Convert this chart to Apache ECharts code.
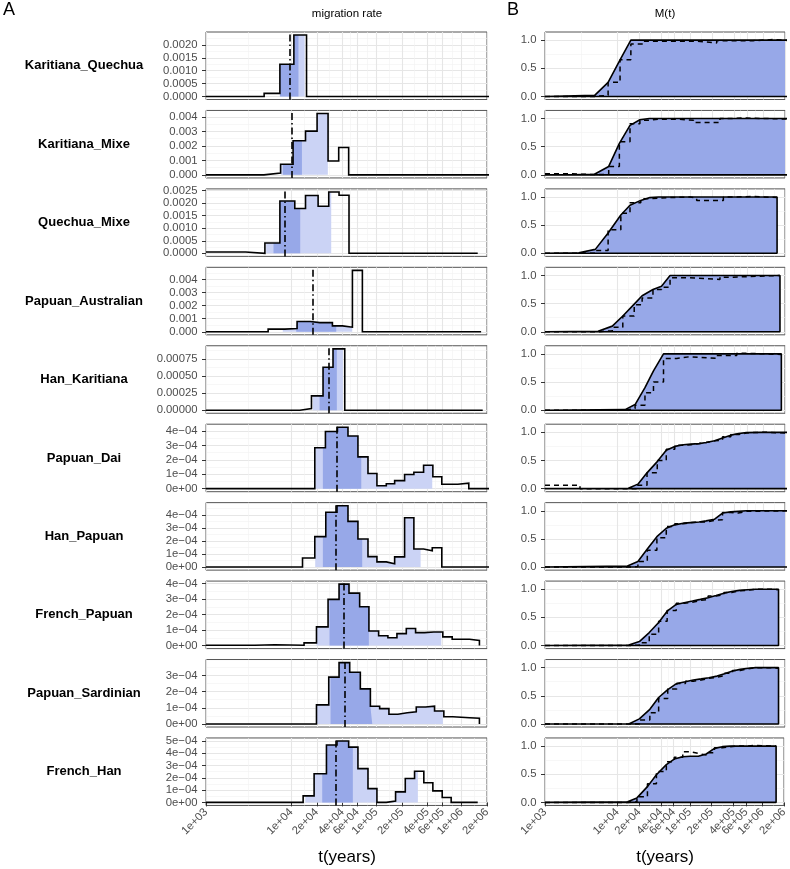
<!DOCTYPE html>
<html><head><meta charset="utf-8">
<script src="https://cdn.jsdelivr.net/npm/echarts@6/dist/echarts.min.js"></script>
<style>html,body{margin:0;padding:0;background:#fff}#c{width:790px;height:869px}</style>
</head><body><div id="c"></div>
<script>
// ---------------- data ----------------
const pairNames = ["Karitiana_Quechua","Karitiana_Mixe","Quechua_Mixe","Papuan_Australian","Han_Karitiana",
  "Papuan_Dai","Han_Papuan","French_Papuan","Papuan_Sardinian","French_Han"];

const xBreaks = [1e3, 1e4, 2e4, 4e4, 6e4, 1e5, 2e5, 4e5, 6e5, 1e6, 2e6];
const xLimits = [1e3, 2e6];

// histogram bin edges (years) and migration rate per bin
const edgesKarQue = [1000, 4820, 7380, 10770, 15170, 2500000];
const rateKarQue  = [0, 0.00012, 0.00125, 0.00238, 0];
const edgesKarMix = [1000, 4790, 7520, 10540, 14760, 20180, 27160, 36220, 47420, 2500000];
const rateKarMix  = [0, 0.00013, 0.00073, 0.00236, 0.00302, 0.00424, 0.00096, 0.00189, 0];
const edgesQueMix = [1000, 2920, 4920, 7380, 11040, 14760, 20750, 27670, 36560, 47860, 1556000];
const rateQueMix  = [0.00005, 0, 0.00041, 0.00209, 0.00179, 0.00231, 0.00188, 0.00245, 0.00232, 0];
const edgesPapAus = [1000, 5370, 8430, 11750, 16870, 21680, 30550, 40090, 52480, 68710, 1706000];
const ratePapAus  = [0, 0.0002, 0.00025, 0.00078, 0.0007, 0.0007, 0.00045, 0.00035, 0.0047, 0];
const edgesHanKar = [1000, 12650, 17340, 23710, 31050, 42660, 1782000];
const rateHanKar  = [0, 0.000024, 0.00021, 0.00063, 0.0009, 0];
const edgesPapDai = [1000, 18970, 25290, 34990, 46560, 60950, 79980, 101860, 131220, 164440, 215280, 276690, 359750, 462380, 588840, 907800, 1221800, 2500000];
const ratePapDai  = [0, 2.84e-4, 3.98e-4, 4.27e-4, 3.66e-4, 2.21e-4, 1.05e-4, 2.0e-5, 3.4e-5, 5.6e-5, 9.8e-5, 1.14e-4, 1.63e-4, 8.3e-5, 3.1e-5, 3.8e-5, 0];
const edgesHanPap = [1000, 13610, 18970, 25530, 34590, 46560, 60950, 79980, 101860, 131220, 164440, 215280, 276690, 359750, 455000, 588840, 2500000];
const rateHanPap  = [0, 7.0e-5, 2.33e-4, 4.2e-4, 4.7e-4, 3.5e-4, 2.15e-4, 8.0e-5, 4.0e-5, 2.5e-5, 7.8e-5, 3.78e-4, 1.38e-4, 1.25e-4, 1.48e-4, 0];
const edgesFrePap = [1000, 3750, 6440, 14190, 19860, 27160, 36560, 47860, 63830, 82040, 106660, 137090, 174990, 225420, 289730, 368980, 474240, 605340, 779830, 1244500, 1629300];
const rateFrePap  = [2e-6, 5e-6, 2e-6, 1.7e-5, 1.2e-4, 2.98e-4, 3.96e-4, 3.38e-4, 2.5e-4, 9.4e-5, 6.3e-5, 5.0e-5, 7.7e-5, 1.1e-4, 8.3e-5, 8.7e-5, 8.7e-5, 5.6e-5, 4.0e-5, 3.3e-5];
const edgesPapSar = [1000, 19860, 27670, 36560, 48750, 65010, 85310, 109650, 140930, 179470, 231740, 295120, 379320, 484170, 622300, 792500, 1244500, 1629300];
const ratePapSar  = [0, 1.18e-4, 2.9e-4, 3.8e-4, 3.2e-4, 2.17e-4, 1.1e-4, 9.5e-5, 6.0e-5, 6.9e-5, 7.5e-5, 1.05e-4, 1.1e-4, 8.0e-5, 4.5e-5, 3.8e-5, 3.5e-5];
const edgesFreHan = [1000, 13840, 18620, 26000, 34590, 47420, 60950, 79980, 101860, 131220, 168660, 219280, 281840, 362240, 462380, 595660, 758580, 1556000];
const rateFreHan  = [0, 5.3e-5, 2.33e-4, 4.68e-4, 5.0e-4, 4.5e-4, 2.75e-4, 1.12e-4, 0, 1.0e-5, 8.6e-5, 1.95e-4, 2.54e-4, 1.6e-4, 9.4e-5, 4.0e-5, 0];

// median (dot-dash line) and shaded intervals (years)
const medianT = [9570, 10120, 8530, 17700, 27480, 34440, 33880, 41300, 42370, 32960];
const darkLo  = [7380, 8000, 6210, 11480, 21580, 23600, 23600, 28250, 29040, 23190];
const darkHi  = [12200, 13400, 12790, 33880, 34440, 66680, 68400, 81850, 89750, 53090];
const lightLo = [7380, 7600, 5090, 7980, 17990, 19190, 19190, 19720, 19720, 14660];
const lightHi = [14400, 27000, 29580, 52240, 40550, 454800, 332000, 580700, 606400, 308300];

// y tick step and label format per migration-rate panel
const yStep = [0.0005, 0.001, 0.0005, 0.001, 0.00025, 1e-4, 1e-4, 1e-4, 1e-4, 1e-4];
const yFmt  = [4, 3, 4, 3, 5, 'sci', 'sci', 'sci', 'sci', 'sci'];

// cumulative M(t): times (years), solid curve, dashed step
const mTKarQue = [1000, 4820, 7380, 10770, 15170, 22490, 122000, 230000, 730000, 1380000, 2500000];
const mSolKarQue = [0, 0.02, 0.25, 0.65, 1.0, 1.0, 1.0, 1.0, 1.0, 1.0, 1.0];
const mDasKarQue = [0, 0.02, 0.25, 0.65, 0.93, 0.98, 0.95, 0.99, 1.01, 0.99, 0.99];
const mTKarMix = [1000, 2200, 4790, 7520, 10540, 14760, 20180, 27160, 36220, 64600, 110000, 255000, 350000, 535000, 2500000];
const mSolKarMix = [0, 0, 0.01, 0.15, 0.56, 0.88, 0.98, 1.0, 1.0, 1.0, 1.0, 1.0, 1.0, 1.0, 1.0];
const mDasKarMix = [0.02, 0.005, 0.01, 0.15, 0.59, 0.91, 0.97, 0.99, 0.99, 0.97, 0.93, 1.0, 1.01, 0.99, 0.99];
const mTQueMix = [1000, 2920, 4920, 7380, 11040, 14760, 20750, 27670, 36560, 47860, 98600, 122000, 284000, 389000, 733000, 1556000];
const mSolQueMix = [0, 0.01, 0.07, 0.36, 0.68, 0.855, 0.94, 0.99, 1.0, 1.0, 1.0, 1.0, 1.0, 1.0, 1.0, 1.0];
const mDasQueMix = [0, 0, 0.05, 0.42, 0.71, 0.9, 0.97, 0.98, 0.99, 1.0, 0.98, 0.94, 1.0, 1.01, 0.99, 0.99];
const mTPapAus = [1000, 5370, 8430, 11750, 16870, 21680, 30550, 40090, 52480, 98600, 255000, 389000, 1706000];
const mSolPapAus = [0, 0.01, 0.1, 0.28, 0.49, 0.64, 0.75, 0.81, 1.0, 1.0, 1.0, 1.0, 1.0];
const mDasPapAus = [0, 0.02, 0.08, 0.28, 0.48, 0.6, 0.75, 0.79, 0.96, 0.93, 0.97, 1.0, 1.0];
const mTHanKar = [1000, 12650, 17340, 23710, 31050, 42660, 64700, 98600, 230000, 434000, 640000, 1782000];
const mSolHanKar = [0, 0.01, 0.1, 0.4, 0.7, 1.0, 1.0, 1.0, 1.0, 1.0, 1.0, 1.0];
const mDasHanKar = [0, 0.03, 0.09, 0.31, 0.5, 0.92, 0.95, 0.92, 0.97, 1.01, 0.99, 0.99];
const mTPapDai = [1000, 3030, 14000, 18970, 25290, 34990, 46560, 60950, 79980, 101860, 131220, 164440, 215280, 276690, 359750, 462380, 588840, 907800, 1221800, 2500000];
const mSolPapDai = [0, 0, 0.005, 0.08, 0.28, 0.48, 0.68, 0.75, 0.78, 0.79, 0.8, 0.82, 0.85, 0.9, 0.95, 0.98, 0.995, 1.0, 1.0, 1.0];
const mDasPapDai = [0.06, 0, 0, 0.06, 0.28, 0.5, 0.7, 0.77, 0.78, 0.8, 0.82, 0.85, 0.86, 0.92, 0.96, 0.99, 1.0, 1.0, 0.98, 0.98];
const mTHanPap = [1000, 13610, 18970, 25530, 34590, 46560, 60950, 79980, 101860, 131220, 164440, 215280, 276690, 359750, 455000, 588840, 2500000];
const mSolHanPap = [0, 0.02, 0.1, 0.32, 0.54, 0.69, 0.75, 0.78, 0.79, 0.8, 0.82, 0.85, 0.96, 0.98, 0.99, 1.0, 1.0];
const mDasHanPap = [0, 0.01, 0.1, 0.3, 0.52, 0.72, 0.77, 0.79, 0.8, 0.8, 0.83, 0.84, 0.97, 0.96, 0.99, 1.0, 1.0];
const mTFrePap = [1000, 14190, 19860, 27160, 36560, 47860, 63830, 82040, 106660, 137090, 174990, 225420, 289730, 368980, 474240, 605340, 779830, 1244500, 1629300];
const mSolFrePap = [0, 0.01, 0.07, 0.23, 0.41, 0.61, 0.73, 0.76, 0.79, 0.82, 0.85, 0.89, 0.93, 0.96, 0.98, 0.99, 1.0, 1.0, 1.0];
const mDasFrePap = [0, 0.01, 0.05, 0.2, 0.43, 0.62, 0.75, 0.77, 0.8, 0.82, 0.88, 0.9, 0.94, 0.97, 0.98, 1.0, 1.0, 0.99, 0.99];
const mTPapSar = [1000, 14190, 19860, 27670, 36560, 48750, 65010, 85310, 109650, 140930, 179470, 231740, 295120, 379320, 484170, 622300, 792500, 1244500, 1629300];
const mSolPapSar = [0, 0, 0.09, 0.26, 0.47, 0.61, 0.72, 0.75, 0.78, 0.8, 0.82, 0.85, 0.89, 0.94, 0.97, 0.99, 1.0, 1.0, 1.0];
const mDasPapSar = [0, 0, 0.07, 0.2, 0.45, 0.62, 0.72, 0.76, 0.78, 0.81, 0.83, 0.86, 0.9, 0.95, 0.98, 1.0, 1.0, 0.99, 0.99];
const mTFreHan = [1000, 13840, 18620, 26000, 34590, 47420, 60950, 79980, 101860, 131220, 168660, 219280, 281840, 362240, 462380, 595660, 758580, 1556000];
const mSolFreHan = [0, 0.01, 0.08, 0.28, 0.49, 0.67, 0.77, 0.81, 0.82, 0.82, 0.86, 0.96, 0.99, 1.0, 1.0, 1.0, 1.0, 1.0];
const mDasFreHan = [0, 0.01, 0.1, 0.33, 0.55, 0.72, 0.8, 0.9, 0.87, 0.84, 0.88, 0.97, 0.99, 1.0, 1.0, 1.01, 1.0, 1.0];

const mTicks = [0, 0.5, 1.0];
const mRange = [-0.0545, 1.1445];

// ---------------- assembly ----------------
const histEdges = [edgesKarQue, edgesKarMix, edgesQueMix, edgesPapAus, edgesHanKar, edgesPapDai, edgesHanPap, edgesFrePap, edgesPapSar, edgesFreHan];
const histRates = [rateKarQue, rateKarMix, rateQueMix, ratePapAus, rateHanKar, ratePapDai, rateHanPap, rateFrePap, ratePapSar, rateFreHan];
const mTs  = [mTKarQue, mTKarMix, mTQueMix, mTPapAus, mTHanKar, mTPapDai, mTHanPap, mTFrePap, mTPapSar, mTFreHan];
const mSol = [mSolKarQue, mSolKarMix, mSolQueMix, mSolPapAus, mSolHanKar, mSolPapDai, mSolHanPap, mSolFrePap, mSolPapSar, mSolFreHan];
const mDas = [mDasKarQue, mDasKarMix, mDasQueMix, mDasPapAus, mDasHanKar, mDasPapDai, mDasHanPap, mDasFrePap, mDasPapSar, mDasFreHan];

const FONT = '"Liberation Sans", Arial, Helvetica, sans-serif';
const C_DARK = '#97a8e8', C_LIGHT = '#cbd3f5', C_FILL = '#97a8e8';
const GRID_MAJ = '#e6e6e6', GRID_MIN = '#f1f1f1';
const L = t => Math.log10(t);
const xMinL = L(xLimits[0]), xMaxL = L(xLimits[1]);
const xMajorL = xBreaks.map(L);
const xMinorL = xMajorL.slice(1).map((v, k) => (v + xMajorL[k]) / 2);

function fmtX(v) {
  const t = Math.round(Math.pow(10, v));
  const m = t.toExponential(0).match(/^(\d)e([+-])(\d+)$/);
  return m[1] + 'e' + m[2] + m[3].padStart(2, '0');
}
function fmtY(v, f) {
  if (f === 'sci') {
    if (Math.abs(v) < 1e-15) return '0e+00';
    const m = v.toExponential(0).match(/^(-?\d)e([+-])(\d+)$/);
    return m[1] + 'e' + (m[2] === '-' ? '\u2212' : '+') + m[3].padStart(2, '0');
  }
  return v.toFixed(f);
}
function rateAt(edges, rates, t) {
  for (let k = 0; k < rates.length; k++) if (t >= edges[k] && t < edges[k + 1]) return rates[k];
  return 0;
}
function stepPts(edges, rates) {
  const p = [];
  for (let k = 0; k < rates.length; k++) { p.push([L(edges[k]), rates[k]]); p.push([L(edges[k + 1]), rates[k]]); }
  p.push([L(edges[edges.length - 1]), 0]);
  return p;
}
function clipPts(edges, rates, lo, hi) {
  const p = [[L(lo), rateAt(edges, rates, lo)]];
  for (let k = 1; k < edges.length - 1; k++) {
    const e = edges[k];
    if (e > lo && e < hi) { p.push([L(e), rates[k - 1]]); p.push([L(e), rates[k]]); }
  }
  p.push([L(hi), rateAt(edges, rates, hi * 0.9999)]);
  return p;
}

const TOP0 = 32, STEP = 78.44, H = 67.5;
const grids = [], xAxes = [], yAxes = [], series = [], graphics = [];
const lblStyle = { color: '#4d4d4d', fontSize: 11.3, fontFamily: FONT };

function addAxes(g, last, yMin, yMax, yTicks, yMinor, yFormatter) {
  xAxes.push({ gridIndex: g, type: 'value', min: xMinL, max: xMaxL, position: 'bottom',
    axisLine: { show: false },
    axisTick: { show: last, customValues: xMajorL, length: 4, lineStyle: { color: '#333', width: 1 } },
    axisLabel: { show: last, customValues: xMajorL, rotate: 45, margin: 5, formatter: fmtX, ...lblStyle },
    splitLine: { show: true, lineStyle: { color: GRID_MAJ, width: 1.1 } } });
  xAxes.push({ gridIndex: g, type: 'value', min: xMinL, max: xMaxL, position: 'top',
    axisLine: { show: false },
    axisTick: { show: false, customValues: xMinorL },
    axisLabel: { show: false, customValues: xMinorL },
    splitLine: { show: true, lineStyle: { color: GRID_MIN, width: 0.6 } } });
  yAxes.push({ gridIndex: g, type: 'value', min: yMin, max: yMax, position: 'left',
    axisLine: { show: false },
    axisTick: { show: true, customValues: yTicks, length: 4, lineStyle: { color: '#333', width: 1 } },
    axisLabel: { show: true, customValues: yTicks, margin: 8.5, formatter: yFormatter, ...lblStyle },
    splitLine: { show: true, lineStyle: { color: GRID_MAJ, width: 1.1 } } });
  yAxes.push({ gridIndex: g, type: 'value', min: yMin, max: yMax, position: 'right',
    axisLine: { show: false },
    axisTick: { show: false, customValues: yMinor },
    axisLabel: { show: false, customValues: yMinor },
    splitLine: { show: true, lineStyle: { color: GRID_MIN, width: 0.6 } } });
}
const baseLine = { type: 'line', showSymbol: false, symbol: 'none', silent: true, animation: false, clip: true };

for (let i = 0; i < 10; i++) {
  const top = TOP0 + STEP * i;
  const last = i === 9;
  // ---- left: migration rate ----
  let g = grids.length;
  grids.push({ left: 206, width: 281, top, height: H, show: true, borderColor: '#555', borderWidth: 1, backgroundColor: '#fff' });
  const edges = histEdges[i], rates = histRates[i];
  const M = Math.max(...rates);
  const yMin = -0.05 * M, yMax = 1.05 * M, st = yStep[i];
  const yT = []; for (let k = 0; k * st <= yMax * (1 + 1e-9); k++) yT.push(k * st);
  const yMi = []; for (let k = -1; (k + 0.5) * st <= yMax; k++) { const v = (k + 0.5) * st; if (v >= yMin) yMi.push(v); }
  const f = yFmt[i];
  addAxes(g, last, yMin, yMax, yT, yMi, v => fmtY(v, f));
  const xa = 2 * g, ya = 2 * g;
  series.push({ ...baseLine, xAxisIndex: xa, yAxisIndex: ya, data: clipPts(edges, rates, lightLo[i], lightHi[i]),
    lineStyle: { width: 0, opacity: 0 }, areaStyle: { color: C_LIGHT, opacity: 1 }, z: 2 });
  series.push({ ...baseLine, xAxisIndex: xa, yAxisIndex: ya, data: clipPts(edges, rates, darkLo[i], darkHi[i]),
    lineStyle: { width: 0, opacity: 0 }, areaStyle: { color: C_DARK, opacity: 1 }, z: 3 });
  series.push({ ...baseLine, xAxisIndex: xa, yAxisIndex: ya, data: stepPts(edges, rates), z: 4,
    lineStyle: { color: '#000', width: 1.6, join: 'miter' },
    markLine: { silent: true, symbol: ['none', 'none'], animation: false, label: { show: false },
      lineStyle: { color: '#000', width: 1.6, type: [7, 3, 1.5, 3] },
      data: [{ xAxis: L(medianT[i]) }] } });
  graphics.push({ type: 'text', x: 84, y: top + H / 2, silent: true,
    style: { text: pairNames[i], font: 'bold 13px ' + FONT, fill: '#000', textAlign: 'center', align: 'center', textVerticalAlign: 'middle', verticalAlign: 'middle' } });

  // ---- right: M(t) ----
  g = grids.length;
  grids.push({ left: 545, width: 240, top, height: H, show: true, borderColor: '#555', borderWidth: 1, backgroundColor: '#fff' });
  addAxes(g, last, mRange[0], mRange[1], mTicks, [0.25, 0.75], v => v.toFixed(1));
  const ts = mTs[i], sol = mSol[i], das = mDas[i];
  const curve = ts.map((t, k) => [L(t), sol[k]]);
  series.push({ ...baseLine, xAxisIndex: 2 * g, yAxisIndex: 2 * g, data: curve,
    lineStyle: { width: 0, opacity: 0 }, areaStyle: { color: C_FILL, opacity: 1 }, z: 2 });
  const outline = curve.concat([[L(ts[ts.length - 1]), 0], [L(ts[0]), 0]]);
  series.push({ ...baseLine, xAxisIndex: 2 * g, yAxisIndex: 2 * g, data: outline, z: 3,
    lineStyle: { color: '#000', width: 1.6 } });
  series.push({ ...baseLine, xAxisIndex: 2 * g, yAxisIndex: 2 * g, step: 'end', z: 4,
    data: ts.map((t, k) => [L(t), das[k]]),
    lineStyle: { color: '#000', width: 1.5, type: [5, 4] } });
}

// titles
const txt = (s, x, y, size, weight) => ({ type: 'text', x, y, silent: true,
  style: { text: s, font: (weight || 'normal') + ' ' + size + 'px ' + FONT, fill: '#000', textAlign: 'center', align: 'center', textVerticalAlign: 'middle', verticalAlign: 'middle' } });
graphics.push(txt('A', 9, 10, 18));
graphics.push(txt('B', 513, 10, 18));
graphics.push(txt('migration rate', 347, 14, 11.5));
graphics.push(txt('M(t)', 665, 14, 11.5));
graphics.push(txt('t(years)', 347, 857, 17));
graphics.push(txt('t(years)', 665, 857, 17));

const chart = echarts.init(document.getElementById('c'), null, { renderer: 'canvas' });
chart.setOption({ animation: false, backgroundColor: '#fff', grid: grids, xAxis: xAxes, yAxis: yAxes, series, graphic: graphics });
</script></body></html>
